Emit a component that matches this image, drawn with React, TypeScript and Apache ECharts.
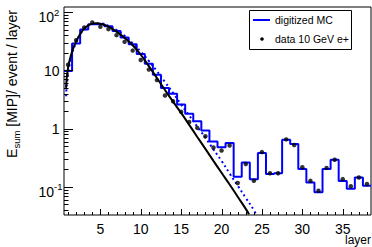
import React, { useEffect, useRef } from 'react';
import * as echarts from 'echarts';

// ---------- data ----------
const layers = [1, 2, 3, 4, 5, 6, 7, 8, 9, 10, 11, 12, 13, 14, 15, 16, 17, 18, 19, 20, 21, 22, 23, 24, 25, 26, 27, 28, 29, 30, 31, 32, 33, 34, 35, 36, 37, 38];

const dataValues = [12.5, 32.9, 54.4, 66.4, 55.7, 50.9, 40.1, 30.8, 21.8, 15.0, 10.3, 6.8, 3.7, 2.95, 1.94, 1.3, 1.03, 0.74, 0.475, 0.42, 0.515, 0.117, 0.248, 0.128, 0.396, 0.172, 0.172, 0.653, 0.523, 0.218, 0.127, 0.086, 0.212, 0.292, 0.136, 0.103, 0.145, 0.112];

const mcValues = [9.7, 29, 50, 62, 62, 57, 47.5, 36.6, 28, 19, 13, 8.4, 5.0, 3.96, 2.6, 1.8, 1.34, 0.93, 0.6, 0.48, 0.567, 0.15, 0.263, 0.136, 0.381, 0.166, 0.172, 0.645, 0.544, 0.204, 0.119, 0.081, 0.204, 0.292, 0.127, 0.093, 0.145, 0.105];

const fitDataX = [0.75, 1, 1.5, 2, 2.5, 3, 3.5, 4, 4.5, 5, 6, 7, 8, 9, 10, 11, 12, 13, 14, 15, 16, 17, 18, 19, 20, 21, 22, 23, 23.4];
const fitDataY = [5, 11, 21, 31, 42, 52, 59, 63, 64.5, 63, 56, 46, 36, 27, 18.5, 11.8, 7.4, 4.6, 2.9, 1.86, 1.16, 0.72, 0.45, 0.28, 0.175, 0.11, 0.068, 0.042, 0.034];

const fitMcX = [0.75, 1, 1.5, 2, 2.5, 3, 3.5, 4, 4.5, 5, 6, 7, 8, 9, 10, 11, 12, 13, 14, 15, 16, 17, 18, 19, 20, 21, 22, 23, 24, 24.25];
const fitMcY = [3.6, 8.5, 19, 30, 41, 51, 58, 62, 64, 64, 58, 49, 39, 29, 21, 14.5, 9.7, 6.3, 4.1, 2.6, 1.68, 1.08, 0.7, 0.44, 0.28, 0.17, 0.105, 0.065, 0.04, 0.034];

const xTickValues = [1, 2, 3, 4, 5, 6, 7, 8, 9, 10, 11, 12, 13, 14, 15, 16, 17, 18, 19, 20, 21, 22, 23, 24, 25, 26, 27, 28, 29, 30, 31, 32, 33, 34, 35, 36, 37, 38];
const xLabelValues = [5, 10, 15, 20, 25, 30, 35];
const yMajorValues = [0.1, 1, 10, 100];
const yMinorValues = [0.04, 0.05, 0.06, 0.07, 0.08, 0.09, 0.2, 0.3, 0.4, 0.5, 0.6, 0.7, 0.8, 0.9, 2, 3, 4, 5, 6, 7, 8, 9, 20, 30, 40, 50, 60, 70, 80, 90];
const yLabelBase = ['10', '1', '10', '10'];
const yLabelExp = ['-1', '', '', '2'];

const X_MIN = 0.5;
const X_MAX = 38.5;
const Y_MIN = 0.033;
const Y_MAX = 122;

const FONT = '"Liberation Sans", Arial, Helvetica, sans-serif';

export default function App() {
  const ref = useRef<HTMLDivElement>(null);

  useEffect(() => {
    if (!ref.current) return;
    const chart = echarts.init(ref.current, undefined, { renderer: 'svg' });

    const histData: number[][] = layers.map((l, i) => [l - 0.5, mcValues[i]]);
    histData.push([layers[layers.length - 1] + 0.5, mcValues[mcValues.length - 1]]);

    const xMajorSet = new Set(xLabelValues);
    const yMajorSet = new Set(yMajorValues);

    const option: any = {
      animation: false,
      backgroundColor: '#fff',
      grid: {
        left: 64,
        top: 7,
        width: 307,
        height: 208,
        show: true,
        borderColor: '#000',
        borderWidth: 1,
        backgroundColor: 'transparent',
      },
      xAxis: {
        type: 'value',
        min: X_MIN,
        max: X_MAX,
        axisLine: { show: false },
        axisTick: { show: false },
        axisLabel: { show: false },
        splitLine: { show: false },
      },
      yAxis: {
        type: 'log',
        logBase: 10,
        min: Y_MIN,
        max: Y_MAX,
        axisLine: { show: false },
        axisTick: { show: false },
        axisLabel: { show: false },
        splitLine: { show: false },
        minorTick: { show: false },
      },
      series: [
        {
          name: 'digitized MC',
          type: 'line',
          step: 'end',
          data: histData,
          symbol: 'none',
          lineStyle: { color: '#0000ff', width: 2 },
          z: 2,
        },
        {
          name: 'MC fit',
          type: 'line',
          data: fitMcX.map((x, i) => [x, fitMcY[i]]),
          smooth: true,
          symbol: 'none',
          lineStyle: { color: '#0000ff', width: 2, type: [2, 3] },
          z: 3,
        },
        {
          name: 'data fit',
          type: 'line',
          data: fitDataX.map((x, i) => [x, fitDataY[i]]),
          smooth: true,
          symbol: 'none',
          lineStyle: { color: '#000', width: 2 },
          z: 4,
        },
        {
          name: 'data 10 GeV e+',
          type: 'scatter',
          data: layers.map((l, i) => [l, dataValues[i]]),
          symbol: 'circle',
          symbolSize: 4.5,
          itemStyle: { color: '#000' },
          z: 5,
        },
        // x ticks
        {
          type: 'custom',
          silent: true,
          clip: false,
          z: 6,
          data: xTickValues.map((v) => [v, Y_MIN, xMajorSet.has(v) ? 1 : 0]),
          renderItem: (_p: any, api: any) => {
            const p = api.coord([api.value(0), api.value(1)]);
            const len = api.value(2) ? 6 : 3;
            const x = Math.round(p[0]) + 0.5;
            return {
              type: 'line',
              shape: { x1: x, y1: p[1], x2: x, y2: p[1] - len },
              style: { stroke: '#000', lineWidth: 1 },
            };
          },
        },
        // y ticks
        {
          type: 'custom',
          silent: true,
          clip: false,
          z: 6,
          data: [...yMajorValues, ...yMinorValues].map((v) => [X_MIN, v, yMajorSet.has(v) ? 1 : 0]),
          renderItem: (_p: any, api: any) => {
            const p = api.coord([api.value(0), api.value(1)]);
            const len = api.value(2) ? 9 : 4.5;
            const y = Math.round(p[1]) + 0.5;
            return {
              type: 'line',
              shape: { x1: p[0], y1: y, x2: p[0] + len, y2: y },
              style: { stroke: '#000', lineWidth: 1 },
            };
          },
        },
        // x labels
        {
          type: 'custom',
          silent: true,
          clip: false,
          z: 6,
          data: xLabelValues.map((v) => [v, Y_MIN]),
          renderItem: (_p: any, api: any) => {
            const p = api.coord([api.value(0), api.value(1)]);
            return {
              type: 'text',
              x: p[0],
              y: p[1] + 13.5,
              style: {
                text: String(api.value(0)),
                fontSize: 14,
                fontFamily: FONT,
                fill: '#000',
                align: 'center',
                verticalAlign: 'middle',
                textAlign: 'center',
                textVerticalAlign: 'middle',
              },
            };
          },
        },
        // y labels
        {
          type: 'custom',
          silent: true,
          clip: false,
          z: 6,
          data: yMajorValues.map((v, i) => [X_MIN, v, i]),
          renderItem: (_p: any, api: any) => {
            const p = api.coord([api.value(0), api.value(1)]);
            const idx = api.value(2);
            const base = yLabelBase[idx];
            const exp = yLabelExp[idx];
            const common = { fontFamily: FONT, fill: '#000' };
            if (!exp) {
              return {
                type: 'text',
                x: p[0] - 4.5,
                y: p[1] + 0.5,
                style: {
                  ...common,
                  text: base,
                  fontSize: 14,
                  align: 'right',
                  verticalAlign: 'middle',
                  textAlign: 'right',
                  textVerticalAlign: 'middle',
                },
              };
            }
            return {
              type: 'group',
              children: [
                {
                  type: 'text',
                  x: p[0] - 10,
                  y: p[1] + 5,
                  style: {
                    ...common,
                    text: base,
                    fontSize: 14,
                    align: 'right',
                    verticalAlign: 'middle',
                    textAlign: 'right',
                    textVerticalAlign: 'middle',
                  },
                },
                {
                  type: 'text',
                  x: p[0] - 10,
                  y: p[1],
                  style: {
                    ...common,
                    text: exp,
                    fontSize: 9.5,
                    align: 'left',
                    verticalAlign: 'middle',
                    textAlign: 'left',
                    textVerticalAlign: 'middle',
                  },
                },
              ],
            };
          },
        },
      ],
      graphic: [
        {
          type: 'rect',
          z: 100,
          shape: { x: 249.5, y: 10.5, width: 102, height: 39 },
          style: { fill: '#fff', stroke: '#000', lineWidth: 1 },
        },
        {
          type: 'line',
          z: 101,
          shape: { x1: 253, y1: 20, x2: 270, y2: 20 },
          style: { stroke: '#0000ff', lineWidth: 2 },
        },
        {
          type: 'text',
          z: 101,
          x: 275,
          y: 20,
          style: {
            text: 'digitized MC',
            fontSize: 10.5,
            fontFamily: FONT,
            fill: '#000',
            align: 'left',
            verticalAlign: 'middle',
            textAlign: 'left',
            textVerticalAlign: 'middle',
          },
        },
        {
          type: 'circle',
          z: 101,
          shape: { cx: 262, cy: 39, r: 1.8 },
          style: { fill: '#000' },
        },
        {
          type: 'text',
          z: 101,
          x: 275,
          y: 39,
          style: {
            text: 'data 10 GeV e+',
            fontSize: 10.5,
            fontFamily: FONT,
            fill: '#000',
            align: 'left',
            verticalAlign: 'middle',
            textAlign: 'left',
            textVerticalAlign: 'middle',
          },
        },
        {
          type: 'text',
          z: 101,
          x: 371,
          y: 240,
          style: {
            text: 'layer',
            fontSize: 12,
            fontFamily: FONT,
            fill: '#000',
            align: 'right',
            verticalAlign: 'middle',
            textAlign: 'right',
            textVerticalAlign: 'middle',
          },
        },
        {
          type: 'text',
          z: 101,
          x: 12,
          y: 10,
          rotation: Math.PI / 2,
          style: {
            text: '{a|E}{b|sum}{a| [MIP]/ event / layer}',
            fill: '#000',
            align: 'right',
            verticalAlign: 'middle',
            textAlign: 'right',
            textVerticalAlign: 'middle',
            rich: {
              a: { fontSize: 14, fontFamily: FONT, lineHeight: 18, verticalAlign: 'middle', fill: '#000' },
              b: { fontSize: 9.5, fontFamily: FONT, lineHeight: 10, verticalAlign: 'bottom', fill: '#000' },
            },
          },
        },
      ],
    };

    chart.setOption(option);
    return () => {
      chart.dispose();
    };
  }, []);

  return (
    <div
      ref={ref}
      style={{ position: 'fixed', left: 0, top: 0, width: 372, height: 247, background: '#fff' }}
    />
  );
}
